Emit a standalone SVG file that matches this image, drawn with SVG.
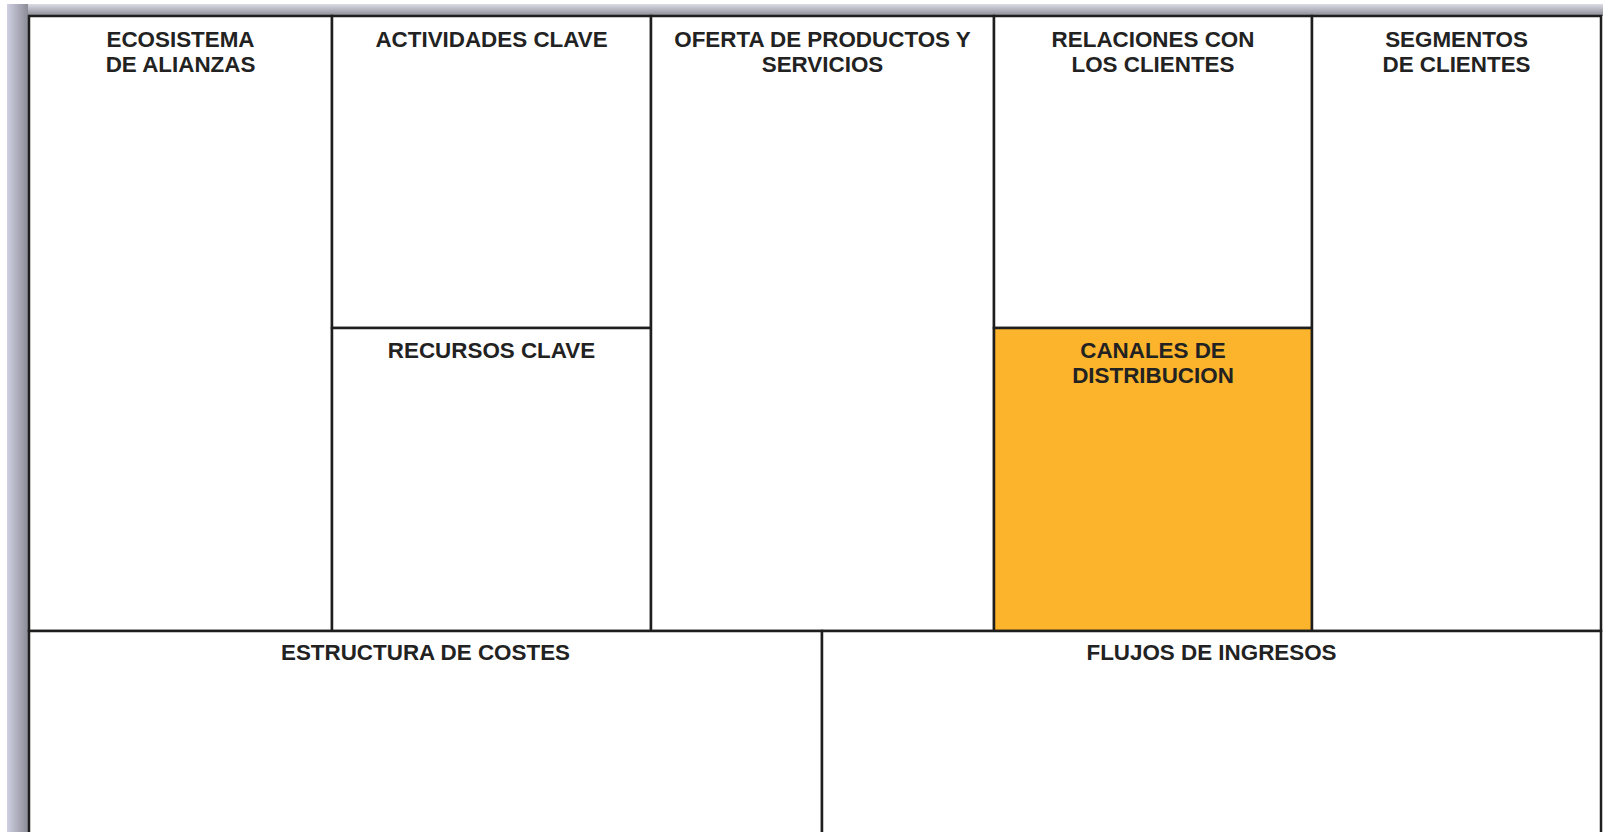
<svg xmlns="http://www.w3.org/2000/svg" width="1603" height="832" viewBox="0 0 1603 832">
  <defs>
    <linearGradient id="shadowTop" x1="0" y1="0" x2="0" y2="1">
      <stop offset="0" stop-color="#dcdce6"/>
      <stop offset="1" stop-color="#8a8a94"/>
    </linearGradient>
    <linearGradient id="shadowLeft" x1="0" y1="0" x2="1" y2="0">
      <stop offset="0" stop-color="#cfd0e2"/>
      <stop offset="1" stop-color="#8c8c98"/>
    </linearGradient>
  </defs>
  <style>
    .cell { fill: #ffffff; stroke: #1e1e1e; stroke-width: 2.5; }
    .hl { fill: #FBB42C; }
    .lbl { font-family: "Liberation Sans", Arial, sans-serif; font-weight: bold; font-size: 22.4px; fill: #222222; text-anchor: middle; }
  </style>
  <rect x="0" y="0" width="1603" height="832" fill="#ffffff"/>
  <g id="shadow">
    <rect x="7" y="4" width="1596" height="12" fill="url(#shadowTop)"/>
    <rect x="7" y="4" width="21" height="828" fill="url(#shadowLeft)"/>
  </g>
  <g id="ecosistema">
    <rect class="cell" x="29" y="16" width="303" height="615"/>
    <text class="lbl" x="180.5" y="47">ECOSISTEMA</text>
    <text class="lbl" x="180.5" y="72">DE ALIANZAS</text>
  </g>
  <g id="actividades">
    <rect class="cell" x="332" y="16" width="319" height="312"/>
    <text class="lbl" x="491.5" y="47">ACTIVIDADES CLAVE</text>
  </g>
  <g id="recursos">
    <rect class="cell" x="332" y="328" width="319" height="303"/>
    <text class="lbl" x="491.5" y="358">RECURSOS CLAVE</text>
  </g>
  <g id="oferta">
    <rect class="cell" x="651" y="16" width="343" height="615"/>
    <text class="lbl" x="822.5" y="47">OFERTA DE PRODUCTOS Y</text>
    <text class="lbl" x="822.5" y="72">SERVICIOS</text>
  </g>
  <g id="relaciones">
    <rect class="cell" x="994" y="16" width="318" height="312"/>
    <text class="lbl" x="1153" y="47">RELACIONES CON</text>
    <text class="lbl" x="1153" y="72">LOS CLIENTES</text>
  </g>
  <g id="canales">
    <rect class="cell hl" x="994" y="328" width="318" height="303"/>
    <text class="lbl" x="1153" y="358">CANALES DE</text>
    <text class="lbl" x="1153" y="383">DISTRIBUCION</text>
  </g>
  <g id="segmentos">
    <rect class="cell" x="1312" y="16" width="289" height="615"/>
    <text class="lbl" x="1456.5" y="47">SEGMENTOS</text>
    <text class="lbl" x="1456.5" y="72">DE CLIENTES</text>
  </g>
  <g id="costes">
    <rect class="cell" x="29" y="631" width="793" height="220"/>
    <text class="lbl" x="425.5" y="660">ESTRUCTURA DE COSTES</text>
  </g>
  <g id="ingresos">
    <rect class="cell" x="822" y="631" width="779" height="220"/>
    <text class="lbl" x="1211.5" y="660">FLUJOS DE INGRESOS</text>
  </g>
</svg>
